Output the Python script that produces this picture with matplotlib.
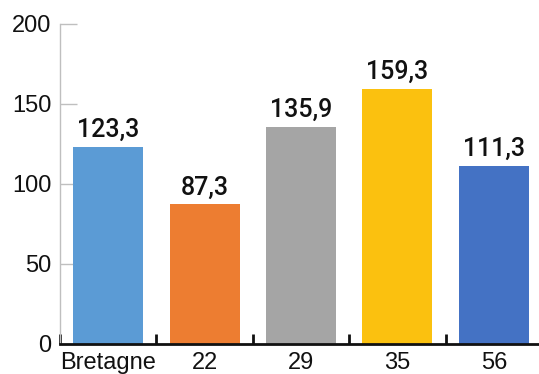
import matplotlib
matplotlib.use("Agg")
import matplotlib.pyplot as plt

categories = ["Bretagne", "22", "29", "35", "56"]
values = [123.3, 87.3, 135.9, 159.3, 111.3]
colors = ["#5B9BD5", "#ED7D31", "#A5A5A5", "#FBC10F", "#4472C4"]
yticks = [0, 50, 100, 150, 200]

W, H = 539, 374
fig = plt.figure(figsize=(W / 100, H / 100), dpi=100)
# axes run slightly past the right edge of the figure
ax = fig.add_axes([60 / W, 30 / H, 482 / W, 320 / H])

x = list(range(len(categories)))
bars = ax.bar(x, values, width=0.725, color=colors, zorder=2)

for xi, v in zip(x, values):
    ax.text(xi, v + 3.0, f"{v:.1f}".replace(".", ","), ha="center", va="bottom",
            fontsize=18, fontfamily="Roboto", fontweight="medium", color="#111111")

ax.set_xlim(-0.5, len(categories) - 0.5)
ax.set_ylim(0, 200)

ax.set_yticks(yticks)
ax.set_yticklabels([str(t) for t in yticks], fontsize=17, fontfamily="Liberation Sans")
ax.tick_params(axis="y", direction="in", length=12, width=1, color="#BFBFBF",
               pad=6, labelcolor="#111111")

# category ticks sit on the boundaries between bars
ax.set_xticks(x)
ax.set_xticklabels(categories, fontsize=17, fontfamily="Liberation Sans", color="#111111")
ax.tick_params(axis="x", which="major", length=0, pad=6)
ax.set_xticks([i - 0.5 for i in range(len(categories) + 1)], minor=True)
ax.tick_params(axis="x", which="minor", direction="in", length=7, width=2, color="#111111")

for side in ("top", "right"):
    ax.spines[side].set_visible(False)
ax.spines["left"].set_color("#BFBFBF")
ax.spines["left"].set_linewidth(1)
ax.spines["bottom"].set_color("#111111")
ax.spines["bottom"].set_linewidth(2)
ax.spines["bottom"].set_zorder(3)

fig.savefig("out.png", dpi=100)
